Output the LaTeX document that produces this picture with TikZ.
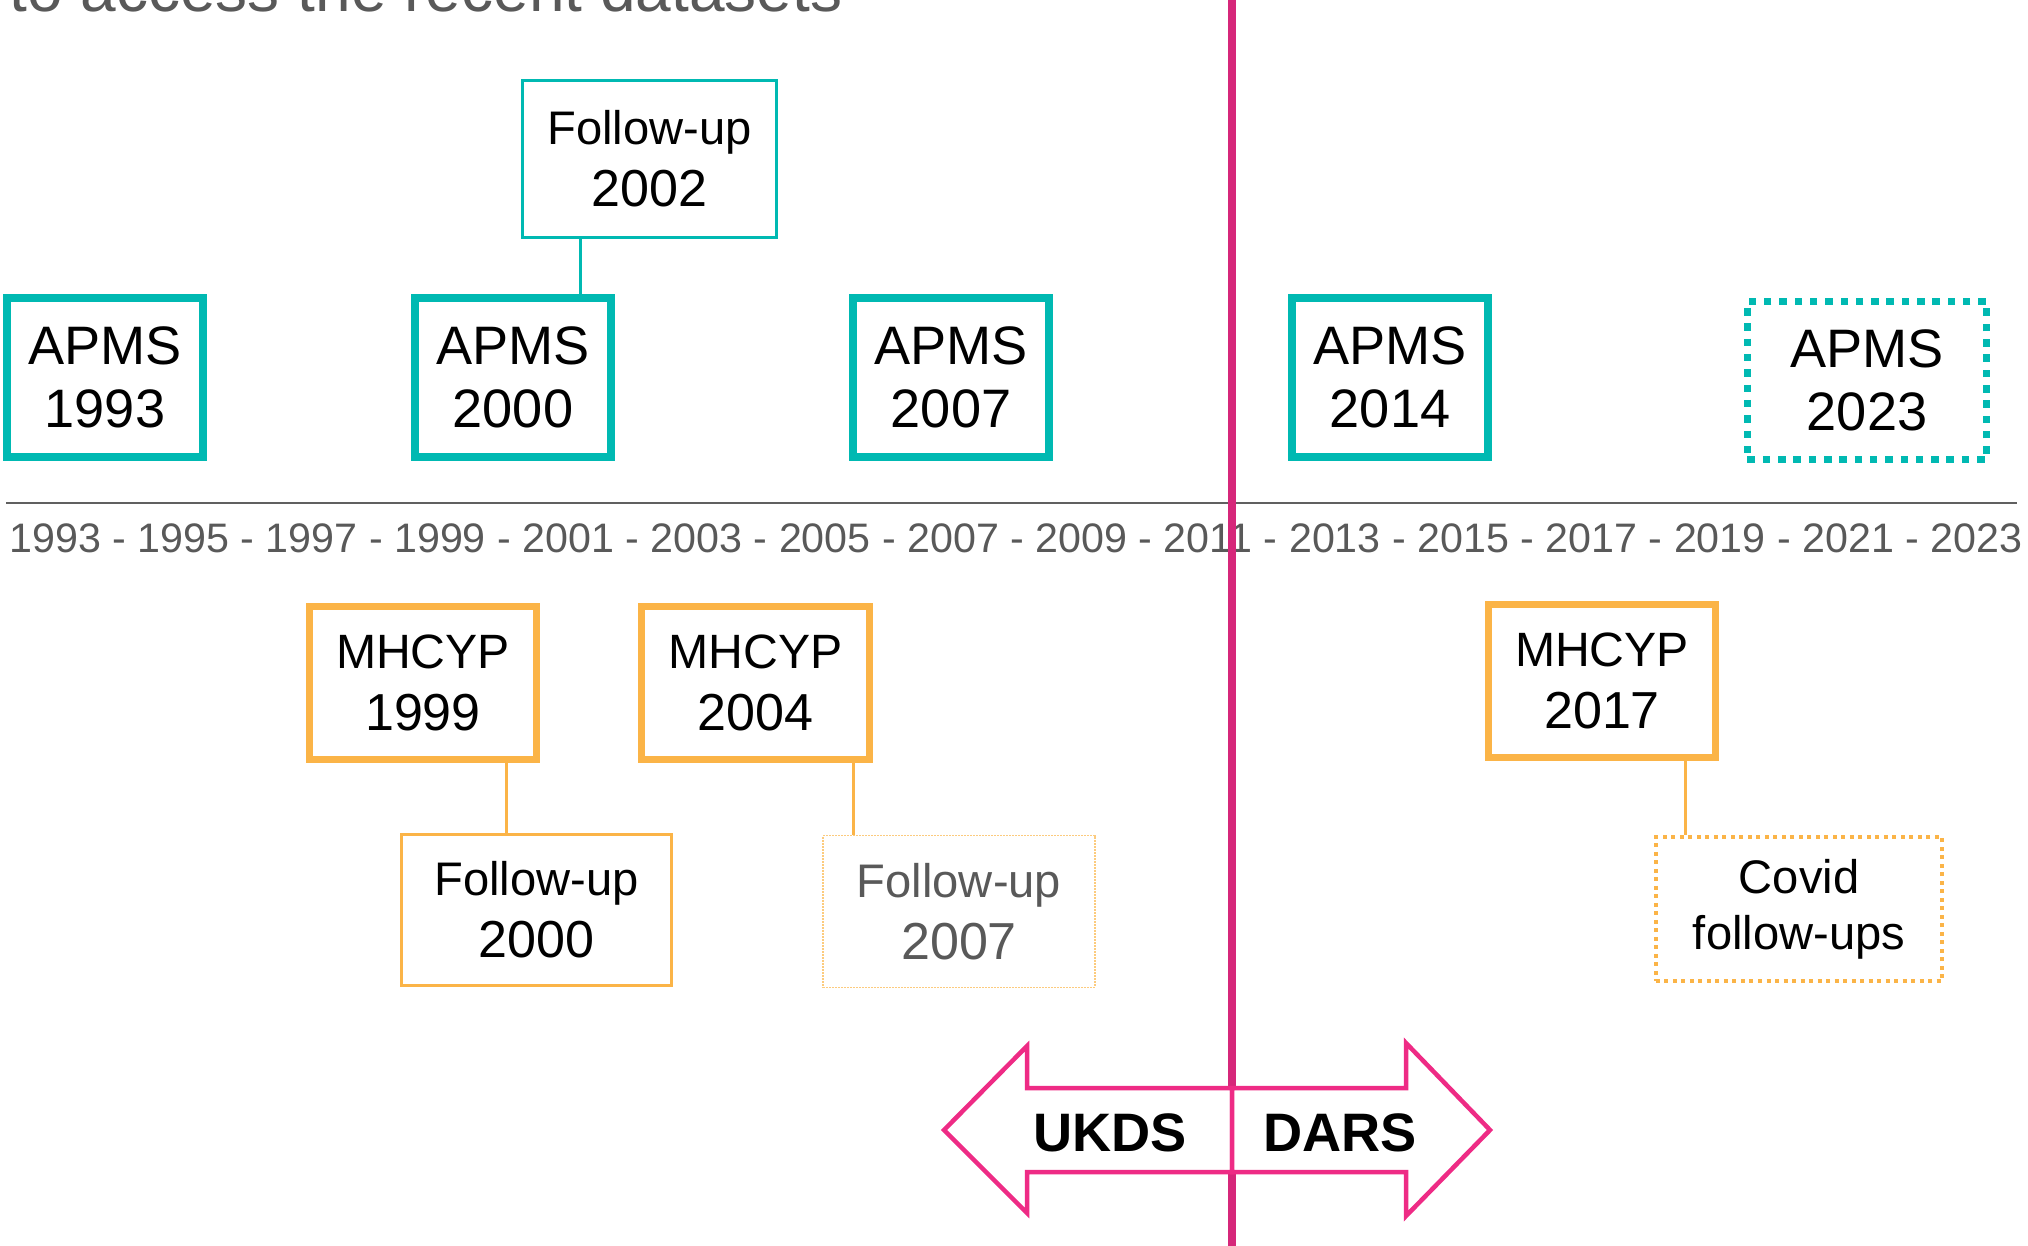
\documentclass[tikz,border=0pt]{standalone}
\usepackage{fontspec}
\setmainfont{Liberation Sans}
\definecolor{apmsteal}{RGB}{0,185,178}
\definecolor{mhorange}{RGB}{251,180,71}
\definecolor{darspink}{RGB}{214,39,122}
\definecolor{arrowpink}{RGB}{238,43,133}
\definecolor{textgray}{RGB}{89,89,89}
\definecolor{linegray}{RGB}{96,96,96}
\newcommand{\boxyear}[1]{{\fontsize{14.8}{17.6}\selectfont #1}}
\begin{document}
\begin{tikzpicture}[
	x=0.01cm,
	y=-0.01cm,
	line join=miter,
	apms/.style={draw=apmsteal,line width=0.08cm,minimum width=1.96cm,minimum height=1.59cm,inner sep=0pt,align=center,font=\fontsize{15.4}{17.9}\selectfont},
	mhcyp/.style={draw=mhorange,line width=0.07cm,minimum width=2.27cm,minimum height=1.53cm,inner sep=0pt,align=center,font=\fontsize{13.7}{17.6}\selectfont},
	followup/.style={draw=#1,line width=0.03cm,inner sep=0pt,align=center,font=\fontsize{13.4}{17.6}\selectfont},
	link/.style={draw=#1,line width=0.03cm},
	halfarrow/.style={fill=white,draw=arrowpink,line width=0.045cm}
	]
	\useasboundingbox (0,0) rectangle (2028,1246);
	% title, cut at the top edge
	\node[anchor=base west,inner sep=0pt,text=textgray,font=\fontsize{18.2}{20}\selectfont] (title) at (9,12) {to access the recent datasets};
	% timeline
	\draw[linegray,line width=0.02cm] (6,502.5) -- (2017,502.5);
	\node[anchor=base,inner sep=0pt,text=textgray,font=\fontsize{11.72}{14}\selectfont] (years) at (1016,552) {1993 - 1995 - 1997 - 1999 - 2001 - 2003 - 2005 - 2007 - 2009 - 2011 - 2013 - 2015 - 2017 - 2019 - 2021 - 2023};
	% APMS
	\node[apms] (apms1993) at (105,377.5) {APMS\\1993};
	\node[apms] (apms2000) at (513,377.5) {APMS\\2000};
	\node[apms] (apms2007) at (951,377.5) {APMS\\2007};
	\node[apms] (apms2014) at (1390,377.5) {APMS\\2014};
	\node[apms,line width=0.07cm,dash pattern=on 0.075cm off 0.078cm,minimum width=2.39cm,minimum height=1.58cm] (apms2023) at (1867,380.5) {APMS\\2023};
	\node[followup=apmsteal,minimum width=2.54cm,minimum height=1.57cm] (fu2002) at (649.4,159) {Follow-up\\\boxyear{2002}};
	\draw[link=apmsteal] ([xshift=-0.684cm]fu2002.south) -- ([xshift=-0.684cm]fu2002.south |- apms2000.north);
	% MHCYP
	\node[mhcyp] (mh1999) at (423,683) {MHCYP\\\boxyear{1999}};
	\node[mhcyp] (mh2004) at (755.5,683) {MHCYP\\\boxyear{2004}};
	\node[mhcyp] (mh2017) at (1602,681) {MHCYP\\\boxyear{2017}};
	\node[followup=mhorange,minimum width=2.70cm,minimum height=1.51cm] (fu2000) at (536.4,909.7) {Follow-up\\\boxyear{2000}};
	\node[followup=mhorange!70,line width=0.015cm,dash pattern=on 0.015cm off 0.015cm,text=textgray,minimum width=2.715cm,minimum height=1.515cm] (fu2007) at (959,911.5) {Follow-up\\\boxyear{2007}};
	\node[followup=mhorange,line width=0.04cm,dash pattern=on 0.04cm off 0.045cm,minimum width=2.86cm,minimum height=1.44cm,font=\fontsize{13.4}{16}\selectfont] (covid) at (1799,909) {Covid\\follow-ups};
	\draw[link=mhorange] ([xshift=0.83cm]mh1999.south) -- ([xshift=0.83cm]mh1999.south |- fu2000.north);
	\draw[link=mhorange] ([xshift=0.975cm]mh2004.south) -- ([xshift=0.975cm]mh2004.south |- fu2007.north);
	\draw[link=mhorange] ([xshift=0.83cm]mh2017.south) -- ([xshift=0.83cm]mh2017.south |- covid.north);
	% divide and access arrows
	\draw[darspink,line width=0.077cm] (1232,0) -- (1232,1246);
	\draw[halfarrow] (1232,1088) -- (1027,1088) -- (1027,1046) -- (944,1130) -- (1027,1213) -- (1027,1172) -- (1232,1172) -- cycle;
	\draw[halfarrow] (1232,1088) -- (1406,1088) -- (1406,1043) -- (1490,1130) -- (1406,1216) -- (1406,1172) -- (1232,1172) -- cycle;
	\node[anchor=base,inner sep=0pt,font=\fontsize{15.4}{18}\selectfont\bfseries] (ukds) at (1110,1151) {UKDS};
	\node[anchor=base,inner sep=0pt,font=\fontsize{15.4}{18}\selectfont\bfseries] (dars) at (1340,1151) {DARS};
\end{tikzpicture}
\end{document}
